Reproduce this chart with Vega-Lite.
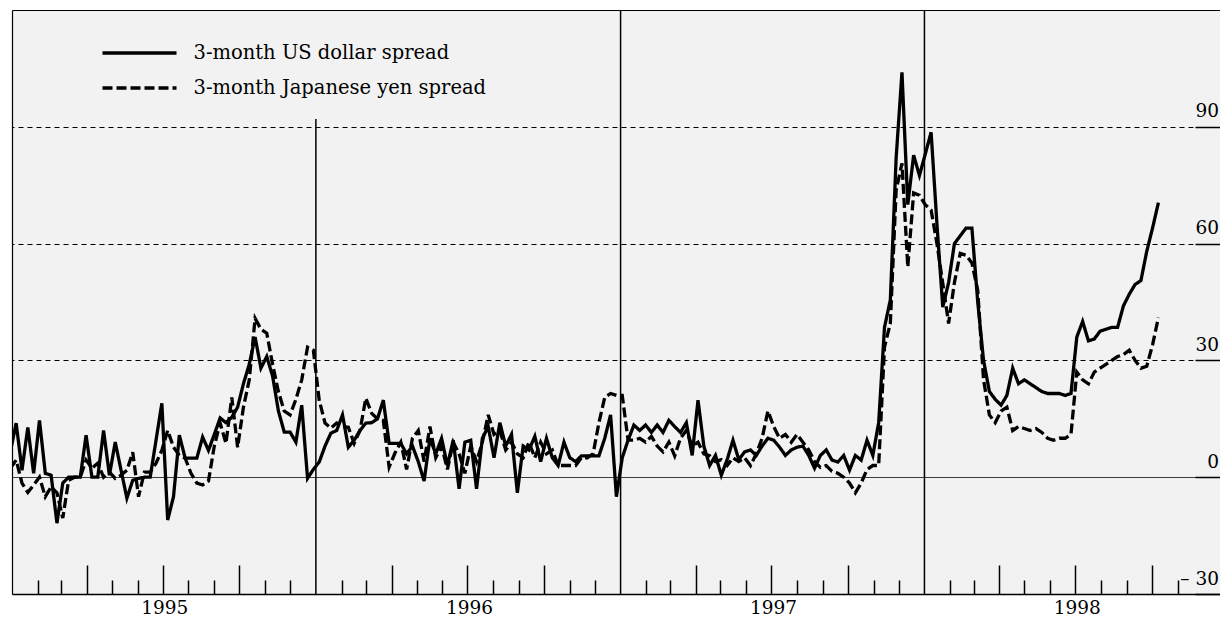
{
  "$schema": "https://vega.github.io/schema/vega-lite/v6.json",
  "width": 1208,
  "height": 584,
  "autosize": {"type": "none"},
  "padding": {"left": 12, "top": 10, "right": 0, "bottom": 23},
  "background": "white",
  "config": {
    "view": {"stroke": null, "fill": "#f2f2f2"},
    "font": "DejaVu Serif",
    "axis": {"labelFont": "DejaVu Serif", "labelColor": "black", "title": null}
  },
  "resolve": {"axis": {"x": "independent", "y": "independent"}},
  "layer": [
    {
      "data": {"values": [{"d": "1996/01/01"}]},
      "mark": {"type": "rule", "color": "black", "strokeWidth": 1.5},
      "encoding": {
        "x": {"field": "d", "type": "temporal",
              "scale": {"domain": [{"year": 1995, "month": 1, "date": 1}, {"year": 1998, "month": 12, "date": 22}], "nice": false},
              "axis": {"orient": "top", "labels": false, "ticks": false, "grid": false, "domain": true, "domainColor": "black", "domainWidth": 1.2}},
        "y": {"datum": -30, "type": "quantitative",
              "scale": {"domain": [-30, 120], "nice": false, "zero": false},
              "axis": {"orient": "left", "labels": false, "ticks": false, "grid": false, "domain": true, "domainColor": "black", "domainWidth": 1.2}},
        "y2": {"datum": 92}
      }
    },
    {
      "data": {"values": [{"d": "1997/01/01"}, {"d": "1998/01/01"}]},
      "mark": {"type": "rule", "color": "black", "strokeWidth": 1.5},
      "encoding": {
        "x": {"field": "d", "type": "temporal",
              "axis": {"orient": "bottom", "values": [{"year": 1995, "month": 7, "date": 3}, {"year": 1996, "month": 7, "date": 3}, {"year": 1997, "month": 7, "date": 3}, {"year": 1998, "month": 7, "date": 3}],
                       "format": "%Y", "ticks": false, "domain": false, "grid": false, "labelPadding": 4, "labelFontSize": 18.5, "labelFlush": false, "labelOverlap": false}},
        "y": {"datum": -30, "type": "quantitative", "axis": null},
        "y2": {"datum": 120}
      }
    },
    {
      "data": {"values": [
        {"d": "1994/12/30", "us": 6.5, "jp": 2.3},
        {"d": "1995/01/06", "us": 13.9, "jp": 4.4},
        {"d": "1995/01/13", "us": 1.8, "jp": -1.5},
        {"d": "1995/01/20", "us": 12.8, "jp": -3.9},
        {"d": "1995/01/27", "us": 1, "jp": -2},
        {"d": "1995/02/03", "us": 14.6, "jp": 0},
        {"d": "1995/02/10", "us": 1, "jp": -5},
        {"d": "1995/02/17", "us": 0.5, "jp": -2.5},
        {"d": "1995/02/24", "us": -11.8, "jp": -4},
        {"d": "1995/03/03", "us": -1.5, "jp": -10.5},
        {"d": "1995/03/10", "us": 0, "jp": -0.8},
        {"d": "1995/03/17", "us": 0, "jp": 0},
        {"d": "1995/03/24", "us": 0, "jp": 0},
        {"d": "1995/03/31", "us": 10.8, "jp": 4.4},
        {"d": "1995/04/07", "us": 0, "jp": 2.3},
        {"d": "1995/04/14", "us": 0, "jp": 3.6},
        {"d": "1995/04/21", "us": 12, "jp": 0},
        {"d": "1995/04/28", "us": 0.5, "jp": 1.3},
        {"d": "1995/05/05", "us": 9, "jp": -0.3},
        {"d": "1995/05/12", "us": 1.8, "jp": 0.5},
        {"d": "1995/05/19", "us": -5.4, "jp": 1.8},
        {"d": "1995/05/26", "us": -0.8, "jp": 6.4},
        {"d": "1995/06/02", "us": -0.3, "jp": -5},
        {"d": "1995/06/09", "us": 0, "jp": 1.3},
        {"d": "1995/06/16", "us": 0, "jp": 1.3},
        {"d": "1995/06/23", "us": 9.5, "jp": 3.6},
        {"d": "1995/06/30", "us": 19, "jp": 6.9},
        {"d": "1995/07/07", "us": -11, "jp": 12},
        {"d": "1995/07/14", "us": -5, "jp": 7.7},
        {"d": "1995/07/21", "us": 10.8, "jp": 5.6},
        {"d": "1995/07/28", "us": 4.9, "jp": 4.9},
        {"d": "1995/08/04", "us": 4.9, "jp": 1},
        {"d": "1995/08/11", "us": 4.9, "jp": -1.5},
        {"d": "1995/08/18", "us": 10.3, "jp": -2},
        {"d": "1995/08/25", "us": 6.9, "jp": -1},
        {"d": "1995/09/01", "us": 11, "jp": 8},
        {"d": "1995/09/08", "us": 15.2, "jp": 13.9},
        {"d": "1995/09/15", "us": 14, "jp": 8.7},
        {"d": "1995/09/22", "us": 15.4, "jp": 20.5},
        {"d": "1995/09/29", "us": 18, "jp": 7.7},
        {"d": "1995/10/06", "us": 24, "jp": 18},
        {"d": "1995/10/13", "us": 29, "jp": 25},
        {"d": "1995/10/20", "us": 36, "jp": 40.8},
        {"d": "1995/10/27", "us": 28, "jp": 38},
        {"d": "1995/11/03", "us": 31, "jp": 37},
        {"d": "1995/11/10", "us": 26, "jp": 29},
        {"d": "1995/11/17", "us": 17, "jp": 22},
        {"d": "1995/11/24", "us": 11.6, "jp": 17},
        {"d": "1995/12/01", "us": 11.6, "jp": 16},
        {"d": "1995/12/08", "us": 9, "jp": 20},
        {"d": "1995/12/15", "us": 18.5, "jp": 25},
        {"d": "1995/12/22", "us": -0.3, "jp": 33.4},
        {"d": "1995/12/29", "us": 2, "jp": 32.6},
        {"d": "1996/01/05", "us": 3.9, "jp": 19.8},
        {"d": "1996/01/12", "us": 8, "jp": 13.9},
        {"d": "1996/01/19", "us": 11.3, "jp": 12.6},
        {"d": "1996/01/26", "us": 12, "jp": 13.9},
        {"d": "1996/02/02", "us": 16, "jp": 13},
        {"d": "1996/02/09", "us": 7.7, "jp": 12.8},
        {"d": "1996/02/16", "us": 9.5, "jp": 8.7},
        {"d": "1996/02/23", "us": 12, "jp": 12},
        {"d": "1996/03/01", "us": 13.9, "jp": 20.3},
        {"d": "1996/03/08", "us": 14, "jp": 16.4},
        {"d": "1996/03/15", "us": 15, "jp": 15},
        {"d": "1996/03/22", "us": 19.8, "jp": 14.6},
        {"d": "1996/03/29", "us": 8.7, "jp": 2.6},
        {"d": "1996/04/05", "us": 8.7, "jp": 6.2},
        {"d": "1996/04/12", "us": 8.7, "jp": 9},
        {"d": "1996/04/19", "us": 6, "jp": 2},
        {"d": "1996/04/26", "us": 8, "jp": 10},
        {"d": "1996/05/03", "us": 4, "jp": 12},
        {"d": "1996/05/10", "us": -1, "jp": 4},
        {"d": "1996/05/17", "us": 10, "jp": 13},
        {"d": "1996/05/24", "us": 6, "jp": 5},
        {"d": "1996/05/31", "us": 10, "jp": 8},
        {"d": "1996/06/07", "us": 3, "jp": 2},
        {"d": "1996/06/14", "us": 9.5, "jp": 9},
        {"d": "1996/06/21", "us": -3, "jp": 6},
        {"d": "1996/06/28", "us": 9, "jp": 1},
        {"d": "1996/07/05", "us": 9.5, "jp": 8},
        {"d": "1996/07/12", "us": -3, "jp": 4},
        {"d": "1996/07/19", "us": 10, "jp": 9},
        {"d": "1996/07/26", "us": 13, "jp": 16},
        {"d": "1996/08/02", "us": 5, "jp": 11},
        {"d": "1996/08/09", "us": 14, "jp": 12},
        {"d": "1996/08/16", "us": 8, "jp": 7},
        {"d": "1996/08/23", "us": 11, "jp": 9},
        {"d": "1996/08/30", "us": -4, "jp": 6},
        {"d": "1996/09/06", "us": 8, "jp": 5},
        {"d": "1996/09/13", "us": 7, "jp": 9},
        {"d": "1996/09/20", "us": 10.5, "jp": 5},
        {"d": "1996/09/27", "us": 4, "jp": 9},
        {"d": "1996/10/04", "us": 10, "jp": 6},
        {"d": "1996/10/11", "us": 5, "jp": 7},
        {"d": "1996/10/18", "us": 3, "jp": 3},
        {"d": "1996/10/25", "us": 9, "jp": 3},
        {"d": "1996/11/01", "us": 5, "jp": 3},
        {"d": "1996/11/08", "us": 4, "jp": 3},
        {"d": "1996/11/15", "us": 5.5, "jp": 5},
        {"d": "1996/11/22", "us": 5.5, "jp": 5},
        {"d": "1996/11/29", "us": 5.5, "jp": 6},
        {"d": "1996/12/06", "us": 5.5, "jp": 14},
        {"d": "1996/12/13", "us": 10, "jp": 20.5},
        {"d": "1996/12/20", "us": 16, "jp": 21.5},
        {"d": "1996/12/27", "us": -5, "jp": 21},
        {"d": "1997/01/03", "us": 5, "jp": 21},
        {"d": "1997/01/10", "us": 9.5, "jp": 9.5},
        {"d": "1997/01/17", "us": 13.4, "jp": 9.5},
        {"d": "1997/01/24", "us": 12, "jp": 10},
        {"d": "1997/01/31", "us": 13.4, "jp": 9},
        {"d": "1997/02/07", "us": 11.5, "jp": 10.5},
        {"d": "1997/02/14", "us": 13.4, "jp": 8},
        {"d": "1997/02/21", "us": 11.5, "jp": 6.5},
        {"d": "1997/02/28", "us": 14.6, "jp": 9},
        {"d": "1997/03/07", "us": 13, "jp": 5.5},
        {"d": "1997/03/14", "us": 11.5, "jp": 10},
        {"d": "1997/03/21", "us": 14, "jp": 12},
        {"d": "1997/03/28", "us": 5.6, "jp": 8},
        {"d": "1997/04/04", "us": 19.8, "jp": 9},
        {"d": "1997/04/11", "us": 8, "jp": 6},
        {"d": "1997/04/18", "us": 3, "jp": 5.5},
        {"d": "1997/04/25", "us": 5.6, "jp": 4},
        {"d": "1997/05/02", "us": 0.5, "jp": 4.5},
        {"d": "1997/05/09", "us": 4.5, "jp": 3},
        {"d": "1997/05/16", "us": 9.5, "jp": 5},
        {"d": "1997/05/23", "us": 4.5, "jp": 4},
        {"d": "1997/05/30", "us": 6.5, "jp": 5},
        {"d": "1997/06/06", "us": 7, "jp": 3},
        {"d": "1997/06/13", "us": 5.6, "jp": 6},
        {"d": "1997/06/20", "us": 8, "jp": 10},
        {"d": "1997/06/27", "us": 10, "jp": 17},
        {"d": "1997/07/04", "us": 9.5, "jp": 13},
        {"d": "1997/07/11", "us": 7.7, "jp": 10},
        {"d": "1997/07/18", "us": 5.6, "jp": 11},
        {"d": "1997/07/25", "us": 7, "jp": 9},
        {"d": "1997/08/01", "us": 7.7, "jp": 11},
        {"d": "1997/08/08", "us": 8, "jp": 9},
        {"d": "1997/08/15", "us": 5.6, "jp": 7},
        {"d": "1997/08/22", "us": 2.3, "jp": 4},
        {"d": "1997/08/29", "us": 5.6, "jp": 2.5},
        {"d": "1997/09/05", "us": 7, "jp": 3},
        {"d": "1997/09/12", "us": 4.4, "jp": 1.5},
        {"d": "1997/09/19", "us": 3.9, "jp": 1},
        {"d": "1997/09/26", "us": 5.6, "jp": 0},
        {"d": "1997/10/03", "us": 1.8, "jp": -1.5},
        {"d": "1997/10/10", "us": 5.6, "jp": -4},
        {"d": "1997/10/17", "us": 4.4, "jp": -1.5},
        {"d": "1997/10/24", "us": 9.5, "jp": 2},
        {"d": "1997/10/31", "us": 5.6, "jp": 3},
        {"d": "1997/11/07", "us": 14, "jp": 3},
        {"d": "1997/11/14", "us": 38.5, "jp": 33.4},
        {"d": "1997/11/21", "us": 45.5, "jp": 39.5},
        {"d": "1997/11/28", "us": 82, "jp": 73.7},
        {"d": "1997/12/05", "us": 104, "jp": 80.6},
        {"d": "1997/12/12", "us": 70, "jp": 54},
        {"d": "1997/12/19", "us": 82.7, "jp": 73},
        {"d": "1997/12/26", "us": 77.5, "jp": 72.4},
        {"d": "1998/01/02", "us": 83, "jp": 70},
        {"d": "1998/01/09", "us": 88.6, "jp": 68.6},
        {"d": "1998/01/16", "us": 65, "jp": 60},
        {"d": "1998/01/23", "us": 43.7, "jp": 49.8},
        {"d": "1998/01/30", "us": 50, "jp": 39.5},
        {"d": "1998/02/06", "us": 60, "jp": 50},
        {"d": "1998/02/13", "us": 62, "jp": 57.5},
        {"d": "1998/02/20", "us": 64, "jp": 57},
        {"d": "1998/02/27", "us": 64, "jp": 55},
        {"d": "1998/03/06", "us": 45, "jp": 48},
        {"d": "1998/03/13", "us": 30, "jp": 25},
        {"d": "1998/03/20", "us": 22, "jp": 16},
        {"d": "1998/03/27", "us": 20, "jp": 14},
        {"d": "1998/04/03", "us": 18.5, "jp": 17},
        {"d": "1998/04/10", "us": 21, "jp": 18},
        {"d": "1998/04/17", "us": 28, "jp": 12},
        {"d": "1998/04/24", "us": 24, "jp": 13},
        {"d": "1998/05/01", "us": 25, "jp": 12.5},
        {"d": "1998/05/08", "us": 24, "jp": 12},
        {"d": "1998/05/15", "us": 23, "jp": 12.5},
        {"d": "1998/05/22", "us": 22, "jp": 11.5},
        {"d": "1998/05/29", "us": 21.5, "jp": 10},
        {"d": "1998/06/05", "us": 21.5, "jp": 9.5},
        {"d": "1998/06/12", "us": 21.5, "jp": 10},
        {"d": "1998/06/19", "us": 21, "jp": 10},
        {"d": "1998/06/26", "us": 21.5, "jp": 11},
        {"d": "1998/07/03", "us": 36, "jp": 27},
        {"d": "1998/07/10", "us": 40, "jp": 25},
        {"d": "1998/07/17", "us": 35, "jp": 24},
        {"d": "1998/07/24", "us": 35.5, "jp": 27},
        {"d": "1998/07/31", "us": 37.5, "jp": 28},
        {"d": "1998/08/07", "us": 38, "jp": 29},
        {"d": "1998/08/14", "us": 38.5, "jp": 30},
        {"d": "1998/08/21", "us": 38.5, "jp": 31},
        {"d": "1998/08/28", "us": 44, "jp": 31.5},
        {"d": "1998/09/04", "us": 47, "jp": 32.6},
        {"d": "1998/09/11", "us": 49.5, "jp": 30},
        {"d": "1998/09/18", "us": 50.5, "jp": 28},
        {"d": "1998/09/25", "us": 58, "jp": 28.5},
        {"d": "1998/10/02", "us": 64, "jp": 34},
        {"d": "1998/10/09", "us": 70.5, "jp": 41}
      ]},
      "transform": [{"fold": ["us", "jp"], "as": ["series", "value"]}],
      "mark": {"type": "line", "color": "black", "strokeWidth": 3.3, "clip": true, "strokeJoin": "miter"},
      "encoding": {
        "x": {"field": "d", "type": "temporal",
              "axis": {"orient": "bottom", "labels": false, "grid": false, "domain": true, "domainColor": "black", "domainWidth": 1.5,
                       "ticks": true, "tickColor": "black", "tickWidth": 1.5,
                       "tickSize": {"condition": {"test": "month(datum.value) % 3 === 0", "value": -29}, "value": -14},
                       "values": [
                         {"year": 1995, "month": 2, "date": 1}, {"year": 1995, "month": 3, "date": 1}, {"year": 1995, "month": 4, "date": 1},
                         {"year": 1995, "month": 5, "date": 1}, {"year": 1995, "month": 6, "date": 1}, {"year": 1995, "month": 7, "date": 1},
                         {"year": 1995, "month": 8, "date": 1}, {"year": 1995, "month": 9, "date": 1}, {"year": 1995, "month": 10, "date": 1},
                         {"year": 1995, "month": 11, "date": 1}, {"year": 1995, "month": 12, "date": 1},
                         {"year": 1996, "month": 2, "date": 1}, {"year": 1996, "month": 3, "date": 1}, {"year": 1996, "month": 4, "date": 1},
                         {"year": 1996, "month": 5, "date": 1}, {"year": 1996, "month": 6, "date": 1}, {"year": 1996, "month": 7, "date": 1},
                         {"year": 1996, "month": 8, "date": 1}, {"year": 1996, "month": 9, "date": 1}, {"year": 1996, "month": 10, "date": 1},
                         {"year": 1996, "month": 11, "date": 1}, {"year": 1996, "month": 12, "date": 1},
                         {"year": 1997, "month": 2, "date": 1}, {"year": 1997, "month": 3, "date": 1}, {"year": 1997, "month": 4, "date": 1},
                         {"year": 1997, "month": 5, "date": 1}, {"year": 1997, "month": 6, "date": 1}, {"year": 1997, "month": 7, "date": 1},
                         {"year": 1997, "month": 8, "date": 1}, {"year": 1997, "month": 9, "date": 1}, {"year": 1997, "month": 10, "date": 1},
                         {"year": 1997, "month": 11, "date": 1}, {"year": 1997, "month": 12, "date": 1},
                         {"year": 1998, "month": 2, "date": 1}, {"year": 1998, "month": 3, "date": 1}, {"year": 1998, "month": 4, "date": 1},
                         {"year": 1998, "month": 5, "date": 1}, {"year": 1998, "month": 6, "date": 1}, {"year": 1998, "month": 7, "date": 1},
                         {"year": 1998, "month": 8, "date": 1}, {"year": 1998, "month": 9, "date": 1}, {"year": 1998, "month": 10, "date": 1},
                         {"year": 1998, "month": 11, "date": 1}
                       ]}},
        "y": {"field": "value", "type": "quantitative",
              "axis": {"orient": "right", "values": [-30, 0, 30, 60, 90], "domain": false,
                       "grid": true, "gridColor": "black", "gridWidth": 1,
                       "gridDash": {"condition": {"test": "datum.value === 0", "value": [1, 0]}, "value": [5, 4]},
                       "gridOpacity": {"condition": {"test": "datum.value < 0", "value": 0}, "value": 1},
                       "ticks": true, "tickSize": -25, "tickColor": "black", "tickWidth": 1.5,
                       "labelAlign": "right", "labelBaseline": "alphabetic", "labelPadding": 23.5, "labelOffset": -10,
                       "labelFontSize": 18.5, "labelFlush": false, "labelOverlap": false,
                       "labelExpr": "datum.value < 0 ? '– 30' : datum.label"}},
        "strokeDash": {"field": "series", "type": "nominal",
                       "scale": {"domain": ["us", "jp"], "range": [[1, 0], [10, 4]]},
                       "legend": {"orient": "none", "legendX": 88.5, "legendY": 33, "direction": "vertical", "title": null,
                                  "symbolType": "stroke", "symbolSize": 5476, "symbolStrokeWidth": 3.3, "symbolStrokeColor": "black",
                                  "clipHeight": 20, "rowPadding": 15, "labelOffset": 15, "padding": 0,
                                  "labelFont": "DejaVu Serif", "labelFontSize": 19.5, "labelColor": "black", "labelLimit": 0,
                                  "labelExpr": "datum.label === 'us' ? '3-month US dollar spread' : '3-month Japanese yen spread'"}}
      }
    }
  ]
}
